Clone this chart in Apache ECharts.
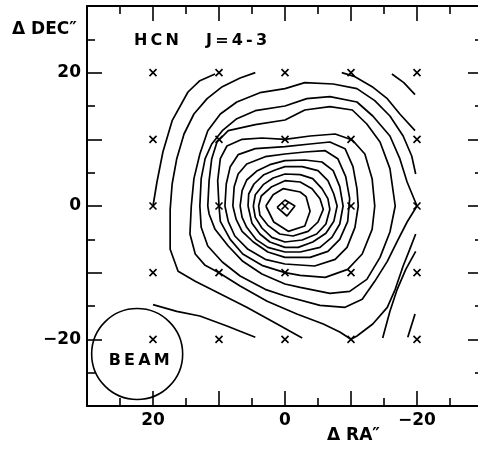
<!DOCTYPE html>
<html>
<head>
<meta charset="utf-8">
<script src="https://cdn.jsdelivr.net/npm/echarts@6/dist/echarts.min.js"></script>
<style>
html, body { margin: 0; padding: 0; background: #fff; }
#main { width: 478px; height: 451px; }
</style>
</head>
<body>
<div id="main"></div>
<script>
// observed positions (arcsec offsets)
const crossRA = [20, 10, 0, -10, -20];
const crossDEC = [20, 10, 0, -10, -20];
const tickLabels = [-20, 0, 20];
const beamCenter = [22.4, -22.2];

// contour lines, outermost first, [dRA, dDEC]
const c1a = [[20,0],[19.4,3.6],[18.5,8.1],[17.1,12.8],[14.7,17.1],[12.9,18.8],[10.6,19.8]];
const c1b = [[20,-14.8],[16.4,-15.8],[12.9,-16.5],[8.8,-18],[6.8,-18.8],[4.5,-19.7]];
const c1c = [[-16.2,19.8],[-18,18.5],[-19.7,16.7]];
const c1d = [[-19.7,-16.2],[-18.6,-19.7]];
const c2a = [[4.5,20],[6.8,19.2],[9.5,17.9],[11.8,16.1],[13.8,13.8],[15.3,10.8],[16.4,7.1],[17.1,3.3],[17.4,-0.5],[17.4,-6.5],[16.2,-9.8],[13.6,-11.3],[10.6,-12.8],[5.8,-15.2],[1.2,-17.7],[-2.6,-19.8]];
const c2b = [[-8.6,20],[-10.6,19.4],[-13.2,17.9],[-15.5,16.1],[-17.4,13.8],[-19.7,11.3]];
const c2c = [[-19.8,-6.8],[-18.3,-9.5],[-17,-12.5],[-15.9,-15.8],[-14.8,-19.8]];
const c3 = [[-19.8,4.8],[-19.2,7.5],[-17.9,10.5],[-15.9,13.5],[-13.6,15.8],[-10.9,17.6],[-7.3,18.3],[-3,18.5],[0,17.6],[3.8,17],[7.3,15.6],[9.8,13.8],[11.7,11.3],[12.9,7.8],[13.8,4.1],[14.2,0],[14.4,-4.2],[13.6,-7.2],[12.1,-8.9],[10,-10],[6.8,-12],[2.7,-14.3],[-1.8,-16.2],[-5.8,-17.7],[-8.3,-18.9],[-10,-20],[-10.9,-19.5],[-13.3,-17.7],[-15.5,-15.2],[-16.7,-12.5],[-17.9,-9],[-18.9,-6.5],[-19.8,-4.2]];
const c4 = [[-20,0],[-18.5,3.6],[-17.4,7.1],[-15.9,10.5],[-13.3,13.5],[-10.9,15.6],[-6.8,16.4],[-3.3,16.1],[0,15],[4.5,14.3],[7.3,13.1],[9.5,11.3],[11.1,9.3],[12.1,7.1],[12.7,4.1],[12.9,0],[12.7,-3.2],[11.7,-6],[9.5,-8.4],[6.8,-10.5],[3,-12.5],[0,-13.5],[-5.3,-14.9],[-9.1,-15.2],[-11.7,-14],[-13.6,-11.3],[-15.5,-8.3],[-17,-5.3],[-18.5,-2.4],[-20,0]];
const c5 = [[11.7,0],[11.5,3.8],[11.1,7.1],[10.3,9.6],[8.6,11.3],[4.5,12.2],[0,12.9],[-3,14.4],[-6.8,14.9],[-10.2,14.4],[-12.4,12.3],[-14.4,9.6],[-15.9,5.6],[-16.7,0],[-15.9,-3.9],[-14.4,-7.7],[-12.4,-11],[-9.8,-12.8],[-6.8,-13.1],[-2.3,-12.2],[0,-11.7],[3.5,-10.2],[6.4,-8.3],[8.6,-6],[10.6,-3.5],[11.5,-1.2],[11.7,0]];
const c6 = [[10,0],[10.2,3.8],[9.8,7.1],[8.8,9],[6.5,10],[3.5,10.2],[0,10],[-3.8,10.5],[-7.6,10.8],[-10.2,9.9],[-12.1,7.8],[-13.2,4.1],[-13.6,0],[-13.2,-3.5],[-11.7,-7.2],[-9.5,-9.5],[-6.1,-10.7],[-2.3,-10.4],[0,-10],[3.5,-8.9],[6.4,-7.2],[8.3,-5],[9.8,-2.3],[10,0]];
const c7 = [[9.1,0],[8.9,3.3],[8.3,5.9],[7.1,7.7],[4.5,8.6],[0,8.9],[-3.8,9.3],[-6.8,9.6],[-9.1,8.6],[-10.3,5.9],[-10.9,2.6],[-11.1,0],[-10.6,-3.2],[-9.4,-6.2],[-7.6,-8],[-4.5,-9],[0,-8.7],[3,-8],[5.6,-6.5],[7.6,-4.5],[8.6,-2.3],[9.1,0]];
const c8 = [[7.9,0],[7.7,2.9],[7.1,4.8],[5.8,6.3],[3,7.4],[0,7.8],[-3,8.1],[-6.1,8.3],[-8,7.1],[-9.2,4.4],[-9.8,1.1],[-9.5,-2.3],[-8.3,-5],[-6.5,-6.8],[-3.8,-7.7],[0,-7.7],[2.6,-6.9],[4.8,-5.4],[6.5,-3.8],[7.4,-2],[7.9,0]];
const c9 = [[6.8,0],[6.5,2.3],[5.8,3.9],[4.2,5.3],[2.3,6.2],[0,6.8],[-3,6.9],[-5.6,6.6],[-7.3,5.3],[-8.3,2.9],[-8.8,0],[-8.3,-2.7],[-7.1,-4.7],[-5.3,-6.2],[-2.3,-6.9],[0,-6.9],[2.6,-6.2],[4.4,-5],[5.8,-3.2],[6.5,-1.7],[6.8,0]];
const c10 = [[5.6,0],[5.5,1.8],[4.7,3.3],[3.2,4.7],[1.5,5.4],[0,5.9],[-2.6,5.9],[-5,5.3],[-6.5,3.8],[-7.4,1.8],[-7.9,0],[-7.4,-2.3],[-6.2,-4.1],[-4.2,-5.4],[-2,-6.2],[0,-6.2],[2.3,-5.4],[3.8,-4.2],[5,-2.6],[5.6,0]];
const c11 = [[4.8,0],[4.5,1.7],[3.3,3.2],[1.8,4.2],[0,4.8],[-2.3,4.7],[-4.2,4.1],[-5.6,2.6],[-6.5,1.1],[-6.8,-0.5],[-6.2,-2.7],[-4.8,-4.2],[-2.6,-5.1],[0,-5.4],[2,-4.7],[3.5,-3.3],[4.5,-1.7],[4.8,0]];
const c12 = [[4,0],[3.6,1.5],[2,2.9],[0,3.8],[-2.3,3.6],[-4.1,2.6],[-5.3,1.1],[-5.8,-0.5],[-5,-2.4],[-3.5,-3.8],[-1.2,-4.5],[0.8,-4.2],[2.6,-2.9],[3.8,-1.4],[4,0]];
const c13 = [[2.9,0],[1.8,1.7],[0.3,2.6],[-2.3,2.1],[-3.2,1.4],[-3.8,-0.8],[-3,-3],[-0.5,-3.8],[1.7,-2.4],[2.9,0]];
const c14 = [[1.2,-0.2],[0,0.9],[-1.5,0],[-0.3,-1.5],[1.2,-0.2]];

const contourLines = [c1a, c1b, c1c, c1d, c2a, c2b, c2c, c3, c4, c5, c6, c7, c8, c9, c10, c11, c12, c13, c14];

const crossPoints = [];
crossDEC.forEach(d => crossRA.forEach(r => crossPoints.push([r, d])));

const FONT = '"DejaVu Sans", sans-serif';

function makeAxis(position, showLabel) {
    return {
        type: 'value',
        position: position,
        min: -30,
        max: 30,
        interval: 10,
        axisLine: { show: true, onZero: false, lineStyle: { color: '#000', width: 2 } },
        axisTick: { show: true, inside: true, length: 15, lineStyle: { color: '#000', width: 1.6 } },
        minorTick: { show: true, splitNumber: 2, length: 8, lineStyle: { color: '#000', width: 1.6 } },
        splitLine: { show: false },
        axisLabel: {
            show: showLabel,
            color: '#000',
            fontFamily: FONT,
            fontWeight: 'bold',
            fontSize: 17,
            margin: 6,
            formatter: v => tickLabels.includes(v) ? (v < 0 ? '\u2212' + Math.abs(v) : String(v)) : ''
        }
    };
}

const contourSeries = contourLines.map(line => ({
    type: 'line',
    data: line,
    symbol: 'none',
    silent: true,
    lineStyle: { color: '#000', width: 1.7 }
}));

var myChart = echarts.init(document.getElementById('main'));
myChart.setOption({
    animation: false,
    backgroundColor: '#fff',
    grid: { left: 87, top: 6, width: 396, height: 400, outerBoundsMode: 'none', containLabel: false },
    xAxis: [
        Object.assign(makeAxis('bottom', true), { inverse: true }),
        Object.assign(makeAxis('top', false), { inverse: true })
    ],
    yAxis: [makeAxis('left', true), makeAxis('right', false)],
    graphic: [
        { type: 'text', left: 12, top: 21, style: { text: '\u0394 DEC\u2033', font: 'bold 17px ' + FONT, fill: '#000' } },
        { type: 'text', left: 134, top: 33, style: { text: 'H\u2009C\u2009N', font: 'bold 16px ' + FONT, fill: '#000' } },
        { type: 'text', left: 206, top: 33, style: { text: 'J\u2009=\u20094\u2009-\u20093', font: 'bold 16px ' + FONT, fill: '#000' } },
        { type: 'text', left: 327, top: 427, style: { text: '\u0394 RA\u2033', font: 'bold 17px ' + FONT, fill: '#000' } }
    ],
    series: contourSeries.concat([
        {
            type: 'scatter',
            data: crossPoints,
            symbol: 'path://M0,0L10,10M10,0L0,10',
            symbolSize: 7,
            silent: true,
            itemStyle: { color: 'none', borderColor: '#000', borderWidth: 1.6, opacity: 1 }
        },
        {
            type: 'scatter',
            data: [beamCenter],
            symbol: 'circle',
            symbolSize: 91,
            silent: true,
            itemStyle: { color: 'rgba(0,0,0,0)', borderColor: '#000', borderWidth: 1.6, opacity: 1 },
            label: {
                show: true,
                position: 'inside',
                offset: [2, 7],
                formatter: 'B\u2009E\u2009A\u2009M',
                color: '#000',
                fontFamily: FONT,
                fontWeight: 'bold',
                fontSize: 16
            }
        }
    ])
});
</script>
</body>
</html>
